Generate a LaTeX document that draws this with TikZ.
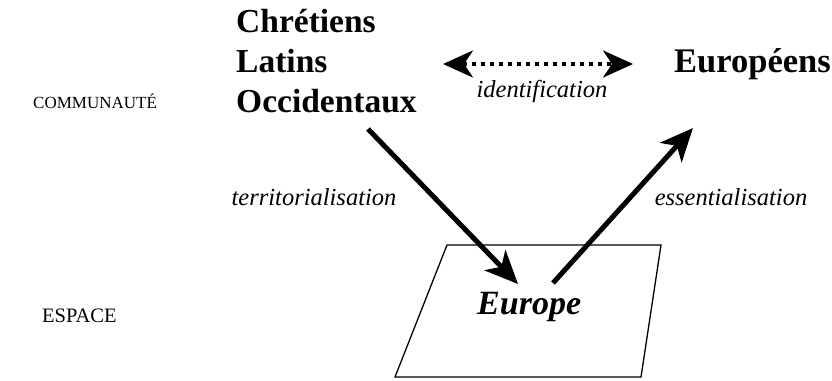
\documentclass[tikz,border=0pt]{standalone}
\usepackage{fontspec}
\setmainfont{Liberation Serif}
\usetikzlibrary{arrows.meta}
\begin{document}
\begin{tikzpicture}[x=1pt,y=-1pt,
  big/.style={font=\fontsize{33.5}{36}\selectfont\bfseries, inner sep=0pt},
  lab/.style={font=\fontsize{24.5}{27}\selectfont\itshape, inner sep=0pt},
  lvl/.style={font=\fontsize{17}{20}\selectfont, inner sep=0pt},
  bigarrow/.style={line width=5pt, -{Stealth[length=33pt,width=29pt,inset=9pt]}},
  dotarrow/.style={line width=4pt, dash pattern=on 4pt off 5pt, {Stealth[length=30pt,width=27pt,inset=9pt]}-{Stealth[length=30pt,width=27pt,inset=9pt]}}]
\useasboundingbox (0,0) rectangle (832,380);
% level labels
\node[lvl, anchor=base west] (comm) at (33,108) {COMMUNAUTÉ};
\node[lvl, font=\fontsize{20.5}{23}\selectfont, anchor=base west] (esp) at (42,322) {ESPACE};
% community terms
\node[big, anchor=base west] (chr) at (236,32) {Chrétiens};
\node[big, anchor=base west] (lat) at (236,72) {Latins};
\node[big, anchor=base west] (occ) at (236,112) {Occidentaux};
\node[big, font=\fontsize{34.5}{37}\selectfont\bfseries, anchor=base west] (eur) at (674,72) {Européens};
% space plane
\draw[line width=1.3pt] (447,245) coordinate (p1) -- (661,245) coordinate (p2) -- (641,377) coordinate (p3) -- (395,377) coordinate (p4) -- cycle;
\node[font=\fontsize{34}{37}\selectfont\bfseries\itshape, inner sep=0pt, anchor=base west] (europe) at (477,314) {Europe};
% arrows
\coordinate (a1s) at (368,129);
\coordinate (a1e) at (518,284);
\coordinate (a2s) at (553,283);
\coordinate (a2e) at (693,128);
\coordinate (dl) at (443,64);
\coordinate (dr) at (633,64);
\draw[bigarrow] (a1s) -- (a1e);
\draw[bigarrow] (a2s) -- (a2e);
\draw[dotarrow] (dl) -- (dr);
% relation labels
\node[lab, anchor=base] (ident) at (542,97) {identification};
\node[lab, anchor=base] (terr) at (314,205) {territorialisation};
\node[lab, anchor=base] (ess) at (731,205) {essentialisation};
\end{tikzpicture}
\end{document}
